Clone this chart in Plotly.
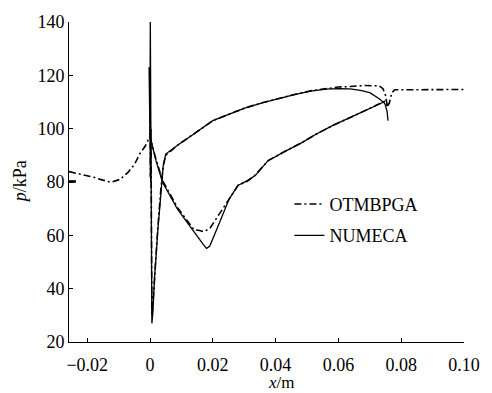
import plotly.graph_objects as go

# ---- tick labels ----
x_tickvals = [-0.02, 0.0, 0.02, 0.04, 0.06, 0.08, 0.10]
x_ticktext = ["\u22120.02", "0", "0.02", "0.04", "0.06", "0.08", "0.10"]
y_tickvals = [20, 40, 60, 80, 100, 120, 140]
y_ticktext = ["20", "40", "60", "80", "100", "120", "140"]

# ---- OTMBPGA (dash-dot) ----
ot_up_x = [-0.0258, -0.0220, -0.0180, -0.0150, -0.0124, -0.0095, -0.0071, -0.0050, -0.0031, -0.0015, -0.0006, 0.0]
ot_up_p = [83.9, 83.0, 81.8, 80.7, 79.9, 81.0, 83.5, 86.5, 90.9, 93.5, 95.7, 96.5]

ot_s1_x = [0.0, 0.00005, 0.0001, 0.0003, 0.0006, 0.0009, 0.0015, 0.0025, 0.0034, 0.0042, 0.0050, 0.0065,
           0.0090, 0.0143, 0.0200, 0.0273, 0.0304, 0.0360, 0.0407, 0.0460, 0.0512, 0.0560, 0.0600,
           0.0637, 0.0686, 0.0730, 0.0742, 0.0750, 0.0756]
ot_s1_p = [96.5, 121, 82, 100, 30, 34, 46, 63, 76.5, 86, 90, 91.5,
           94, 98.3, 103, 106.4, 107.8, 109.8, 111.3, 112.8, 114.2, 115.1, 115.6,
           115.8, 116.2, 116.0, 115.0, 112.5, 108.5]

ot_s2_x = [0.0, 0.0003, 0.0019, 0.0040, 0.0087, 0.0120, 0.0140, 0.0158, 0.0171, 0.0190, 0.0220, 0.0252,
           0.0280, 0.0310, 0.0335, 0.0376, 0.0430, 0.0481, 0.0530, 0.0584, 0.0640, 0.0686, 0.0720,
           0.0748, 0.0756]
ot_s2_p = [96.5, 95.5, 88.5, 80.5, 70.5, 65.0, 62.1, 61.8, 61.4, 62.5, 67.7, 73.6,
           78.7, 80.3, 82.6, 88.0, 91.5, 94.6, 98.0, 101.3, 104.3, 106.8, 108.6,
           110.3, 108.5]

ot_dn_x = [0.0756, 0.0762, 0.0770, 0.0780, 0.0850, 0.0950, 0.1000]
ot_dn_p = [108.5, 109.5, 113.5, 114.6, 114.6, 114.7, 114.7]

# ---- NUMECA (solid) ----
nu_up_x = [-0.0258, -0.0236]
nu_up_p = [80.2, 80.2]

nu_s1_x = [0.0, -0.0003, 0.0002, -0.0002, 0.0003, -0.0001, 0.0002, 0.0, 0.0001,
           0.0006, 0.0009, 0.0015, 0.0025, 0.0034, 0.0042, 0.0050, 0.0065,
           0.0090, 0.0143, 0.0200, 0.0273, 0.0304, 0.0360, 0.0407, 0.0460, 0.0512, 0.0560, 0.0600,
           0.0637, 0.0670, 0.0700, 0.0730, 0.0748, 0.0755, 0.0758]
nu_s1_p = [96, 123, 80, 121, 82, 118, 80, 110, 140,
           27, 31, 45, 62, 76.2, 86, 90.5, 91.7,
           94, 98.3, 103, 106.4, 107.8, 109.8, 111.3, 112.8, 114.1, 114.8, 115.0,
           114.9, 114.4, 113.5, 111.2, 109.4, 106.5, 103.0]

nu_s2_x = [0.0, 0.0003, 0.0019, 0.0040, 0.0087, 0.0120, 0.0149, 0.0170, 0.0180, 0.0190, 0.0210, 0.0233,
           0.0252, 0.0280, 0.0310, 0.0335, 0.0376, 0.0430, 0.0481, 0.0530, 0.0584, 0.0640, 0.0686,
           0.0720, 0.0748]
nu_s2_p = [96, 95.7, 88.0, 79.9, 69.9, 64.5, 59.5, 56.5, 55.1, 55.9, 61.5, 68.0,
           73.6, 78.7, 80.5, 82.4, 88.0, 91.5, 94.6, 98.0, 101.3, 104.3, 106.8,
           108.5, 110.2]

FONT = "Liberation Serif, Times New Roman, serif"
DASHDOT = "7px,3px,2px,3px"

fig = go.Figure()

ot_series = [(ot_up_x, ot_up_p), (ot_s1_x, ot_s1_p), (ot_s2_x, ot_s2_p), (ot_dn_x, ot_dn_p)]
for i, (xs, ps) in enumerate(ot_series):
    fig.add_trace(go.Scatter(
        x=xs, y=ps, mode="lines", name="OTMBPGA", legendgroup="ot",
        showlegend=(i == 0),
        line=dict(color="black", width=1.6, dash=DASHDOT)))

nu_series = [(nu_up_x, nu_up_p), (nu_s1_x, nu_s1_p), (nu_s2_x, nu_s2_p)]
for i, (xs, ps) in enumerate(nu_series):
    fig.add_trace(go.Scatter(
        x=xs, y=ps, mode="lines", name="NUMECA", legendgroup="nu",
        showlegend=(i == 1),
        line=dict(color="black", width=(2.6 if i == 0 else 1.3))))

axis_common = dict(
    showline=True, linecolor="black", linewidth=1, ticks="inside", ticklen=4,
    tickcolor="black", tickwidth=1, showgrid=False, zeroline=False, mirror=False,
    tickfont=dict(family=FONT, size=18, color="black"))

fig.update_layout(
    width=492, height=393,
    margin=dict(l=69, r=18, t=17, b=51),
    paper_bgcolor="white", plot_bgcolor="white",
    font=dict(family=FONT, size=18, color="black"),
    xaxis=dict(range=[-0.0258, 0.1], tickvals=x_tickvals, ticktext=x_ticktext,
               ticklabelstandoff=6, **axis_common),
    yaxis=dict(range=[20, 140], tickvals=y_tickvals, ticktext=y_ticktext, **axis_common),
    legend=dict(x=0.558, y=0.488, xanchor="left", yanchor="top", bgcolor="rgba(0,0,0,0)",
                font=dict(family=FONT, size=18, color="black"), tracegroupgap=5),
    annotations=[
        dict(text="<i>x</i>/m", xref="paper", yref="paper", x=0.538, y=-0.126,
             xanchor="center", yanchor="middle", showarrow=False,
             font=dict(family=FONT, size=17, color="black")),
        dict(text="<i>p</i>/kPa", xref="paper", yref="paper", x=-0.1235, y=0.5,
             xanchor="center", yanchor="middle", showarrow=False, textangle=-90,
             font=dict(family=FONT, size=18, color="black")),
    ],
)

fig.write_html("out.html")
